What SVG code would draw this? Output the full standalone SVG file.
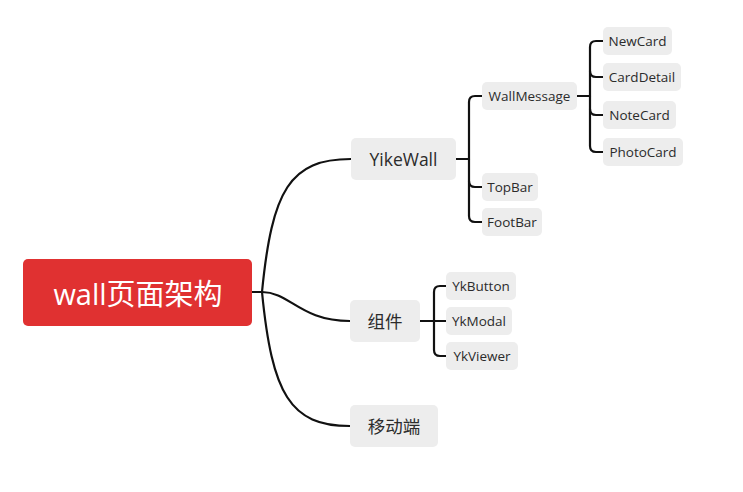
<svg xmlns="http://www.w3.org/2000/svg" width="743" height="492" viewBox="0 0 743 492">
<style>
.n{fill:#ededed}
.t{font-family:"Open Sans","Noto Sans CJK SC",sans-serif;fill:#2b2b2b;dominant-baseline:central}
.s{font-size:13.5px}
.m{font-size:17.5px}
.c{fill:none;stroke:#111;stroke-width:2.2;stroke-linecap:round;stroke-linejoin:round}
</style>
<rect width="743" height="492" fill="#fff"/>
<g id="connectors">
<path class="c" d="M252,292 H262"/>
<path class="c" d="M262,292 C272,190 290,159 351,159"/>
<path class="c" d="M262,292 C290,292 300,321 350,321"/>
<path class="c" d="M262,292 C272,394 290,426 350,426"/>
<path class="c" d="M456,159 H469"/>
<path class="c" d="M482,96 H475 Q469,96 469,102 V216 Q469,222 475,222 H482"/>
<path class="c" d="M469,181 Q469,187 475,187 H482"/>
<path class="c" d="M577,96 H590"/>
<path class="c" d="M603,41 H596 Q590,41 590,47 V146 Q590,152 596,152 H603"/>
<path class="c" d="M590,71 Q590,77 596,77 H603"/>
<path class="c" d="M590,109 Q590,115 596,115 H603"/>
<path class="c" d="M420,321 H446"/>
<path class="c" d="M446,286 H440 Q434,286 434,292 V350 Q434,356 440,356 H446"/>
</g>
<g id="root">
<rect x="23" y="259" width="229" height="67" rx="5" fill="#e03131"/>
<text x="138" y="293" text-anchor="middle" font-family="'Open Sans','Noto Sans CJK SC',sans-serif" font-size="29" fill="#fff" dominant-baseline="central">wall页面架构</text>
</g>
<g id="yikewall">
<rect class="n" x="351" y="138" width="105" height="42" rx="5"/>
<text class="t m" x="403.5" y="159" text-anchor="middle">YikeWall</text>
</g>
<g id="zujian">
<rect class="n" x="350" y="300" width="70" height="42" rx="5"/>
<text class="t m" x="385" y="321" text-anchor="middle">组件</text>
</g>
<g id="yidongduan">
<rect class="n" x="350" y="405" width="88" height="42" rx="5"/>
<text class="t m" x="394" y="426" text-anchor="middle">移动端</text>
</g>
<g id="wallmessage">
<rect class="n" x="482" y="82" width="95" height="28" rx="5"/>
<text class="t s" x="529.5" y="96" text-anchor="middle">WallMessage</text>
</g>
<g id="topbar">
<rect class="n" x="482" y="173" width="56" height="28" rx="5"/>
<text class="t s" x="510" y="187" text-anchor="middle">TopBar</text>
</g>
<g id="footbar">
<rect class="n" x="482" y="208" width="60" height="28" rx="5"/>
<text class="t s" x="512" y="222" text-anchor="middle">FootBar</text>
</g>
<g id="newcard">
<rect class="n" x="603" y="27" width="69" height="28" rx="5"/>
<text class="t s" x="637.5" y="41" text-anchor="middle">NewCard</text>
</g>
<g id="carddetail">
<rect class="n" x="603" y="63" width="78" height="28" rx="5"/>
<text class="t s" x="642" y="77" text-anchor="middle">CardDetail</text>
</g>
<g id="notecard">
<rect class="n" x="603" y="101" width="73" height="28" rx="5"/>
<text class="t s" x="639.5" y="115" text-anchor="middle">NoteCard</text>
</g>
<g id="photocard">
<rect class="n" x="603" y="138" width="80" height="28" rx="5"/>
<text class="t s" x="643" y="152" text-anchor="middle">PhotoCard</text>
</g>
<g id="ykbutton">
<rect class="n" x="446" y="272" width="70" height="28" rx="5"/>
<text class="t s" x="481" y="286" text-anchor="middle">YkButton</text>
</g>
<g id="ykmodal">
<rect class="n" x="446" y="307" width="66" height="28" rx="5"/>
<text class="t s" x="479" y="321" text-anchor="middle">YkModal</text>
</g>
<g id="ykviewer">
<rect class="n" x="446" y="342" width="72" height="28" rx="5"/>
<text class="t s" x="482" y="356" text-anchor="middle">YkViewer</text>
</g>
</svg>
